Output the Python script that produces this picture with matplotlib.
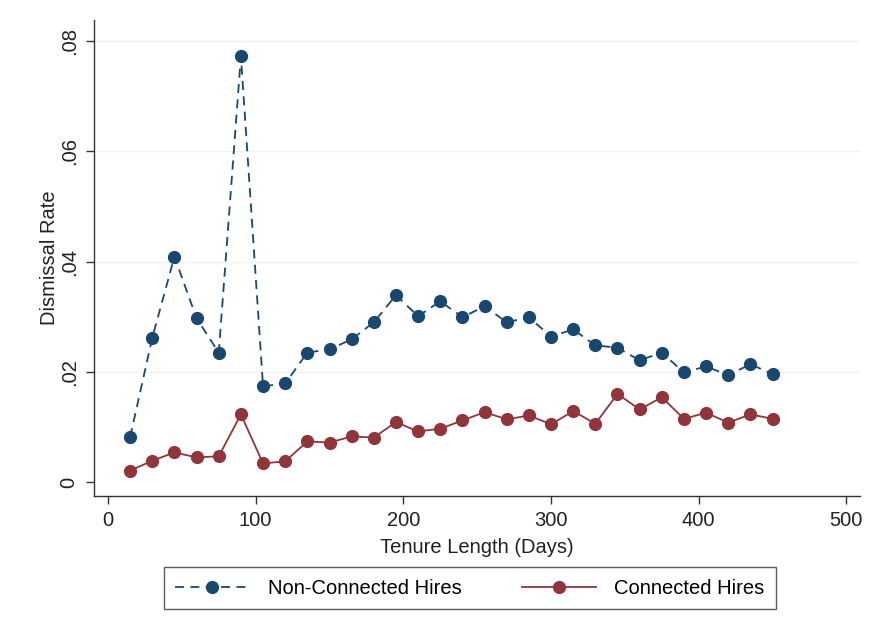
import numpy as np
import matplotlib.pyplot as plt

plt.rcParams['font.family'] = ['Liberation Sans', 'DejaVu Sans']

# tenure bins (days)
tenure = [15, 30, 45, 60, 75, 90, 105, 120, 135, 150, 165, 180, 195, 210, 225,
          240, 255, 270, 285, 300, 315, 330, 345, 360, 375, 390, 405, 420, 435, 450]

non_connected = [0.0082, 0.0262, 0.0409, 0.0297, 0.0235, 0.0772, 0.0174, 0.0179,
                 0.0235, 0.0241, 0.0259, 0.0290, 0.0339, 0.0301, 0.0328, 0.0299,
                 0.0319, 0.0290, 0.0299, 0.0264, 0.0277, 0.0248, 0.0244, 0.0221,
                 0.0235, 0.0199, 0.0210, 0.0194, 0.0214, 0.0196]

connected = [0.0021, 0.0039, 0.0054, 0.0045, 0.0047, 0.0123, 0.0034, 0.0038,
             0.0074, 0.0072, 0.0083, 0.0081, 0.0109, 0.0092, 0.0097, 0.0112,
             0.0127, 0.0114, 0.0121, 0.0105, 0.0129, 0.0106, 0.0160, 0.0132,
             0.0154, 0.0115, 0.0126, 0.0108, 0.0123, 0.0115]

yticks = [0, 0.02, 0.04, 0.06, 0.08]
ytick_labels = ["0", ".02", ".04", ".06", ".08"]
xticks = [0, 100, 200, 300, 400, 500]

navy = "#1a476f"
maroon = "#90353b"

fig = plt.figure(figsize=(8.7, 6.33), dpi=100)
ax = fig.add_axes([0.108, 0.217, 0.881, 0.751])

ax.plot(tenure, non_connected, color=navy, linestyle=(0, (5, 3.5)), linewidth=1.3,
        marker="o", markersize=8.5, markerfacecolor=navy, markeredgecolor=navy,
        label="Non-Connected Hires")
ax.plot(tenure, connected, color=maroon, linestyle="-", linewidth=1.3,
        marker="o", markersize=8.5, markerfacecolor=maroon, markeredgecolor=maroon,
        label="Connected Hires")

ax.set_xlim(-9.5, 509.5)
ax.set_ylim(-0.00243, 0.08375)
ax.set_xticks(xticks)
ax.set_yticks(yticks)
ax.set_yticklabels(ytick_labels, rotation=90, va="center")
ax.tick_params(axis="both", direction="out", length=6, width=1, labelsize=14.5,
               color="#333333", labelcolor="#222222")
ax.tick_params(axis="x", pad=5)
ax.tick_params(axis="y", pad=5)

for y in yticks[1:]:
    ax.axhline(y, color="#f2f2f2", linewidth=1, zorder=0)

for side in ["top", "right"]:
    ax.spines[side].set_visible(False)
for side in ["left", "bottom"]:
    ax.spines[side].set_color("#333333")
    ax.spines[side].set_linewidth(1)

ax.set_xlabel("Tenure Length (Days)", fontsize=14.5, color="#222222", labelpad=5.5)
ax.set_ylabel("Dismissal Rate", fontsize=14.5, color="#222222", labelpad=0.5)

leg = fig.legend(loc="center", bbox_to_anchor=(0.540, 0.071), ncol=2,
                 fontsize=14.5, frameon=True, fancybox=False, edgecolor="#333333",
                 handlelength=3.7, handletextpad=0.9, columnspacing=3.0,
                 borderpad=0.55)
leg.get_frame().set_linewidth(1)

fig.savefig("out.png", dpi=100, facecolor="white")
